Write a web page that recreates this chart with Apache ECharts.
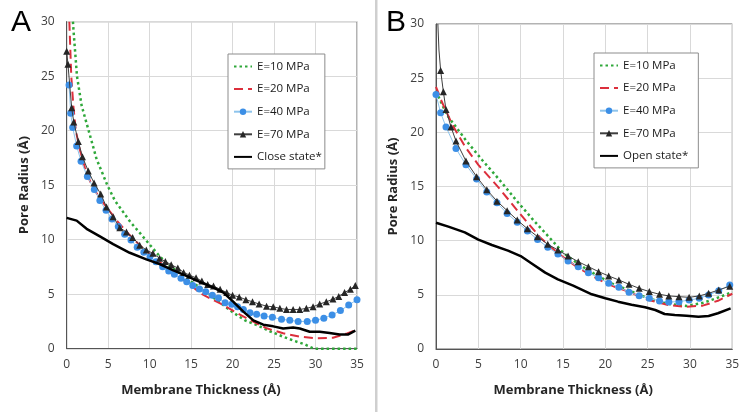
<!DOCTYPE html>
<html>
<head>
<meta charset="utf-8">
<script src="https://cdn.jsdelivr.net/npm/echarts@6/dist/echarts.min.js"></script>
<style>html,body{margin:0;padding:0;background:#fff}#c{width:750px;height:412px}</style>
</head>
<body>
<div id="c"></div>
<script>
// ---------- Panel A (Close state) ----------
const A_E10 = [[0.75,30],[0.84,29],[1.24,25],[1.8,22.3],[2.65,20],[3.6,17.4],[4.9,15],[5.8,13.6],[6.75,12.6],[7.7,11.6],[8.84,10.6],[10,9.55],[11.25,8.44],[12.4,7.6],[13.66,6.92],[15,6.15],[16.5,5.4],[18,4.5],[20.1,3.3],[21.5,2.6],[22.9,2.17],[24.5,1.6],[26.1,1.1],[27.5,0.7],[28.7,0.4],[29.8,0],[31,0],[33,0],[35,0]];
const A_E20 = [[0.32,30],[0.55,25],[0.8,22.3],[1.1,20],[1.6,18.2],[2.2,16.6],[3.0,15],[4.0,13.8],[5.0,12.8],[6.2,11.6],[7.5,10.5],[8.8,9.5],[10,8.7],[11.3,7.9],[12.6,7.15],[14,6.35],[15,5.8],[16.1,5.1],[17.3,4.6],[18.5,4.16],[20.1,3.46],[22.1,2.63],[24.1,1.87],[26.1,1.41],[28.1,1.1],[30.1,0.95],[32.1,1.0],[33.8,1.4],[34.8,1.7]];
const A_E40 = [[0.28,24.2],[0.48,21.6],[0.72,20.3],[1.2,18.6],[1.73,17.2],[2.49,15.8],[3.33,14.6],[4.0,13.6],[4.74,12.7],[5.46,11.9],[6.22,11.2],[6.99,10.5],[7.75,9.97],[8.5,9.3],[9.3,8.84],[10.04,8.44],[10.77,7.98],[11.57,7.52],[12.3,7.13],[12.98,6.82],[13.78,6.46],[14.47,6.15],[15.2,5.8],[16.0,5.48],[16.76,5.23],[17.56,4.9],[18.3,4.65],[19.1,4.22],[19.9,4.07],[20.6,3.85],[21.3,3.6],[22.1,3.3],[22.9,3.15],[23.8,3.0],[24.8,2.88],[25.9,2.7],[26.9,2.6],[27.9,2.5],[29.0,2.5],[30.0,2.6],[31.0,2.8],[32.0,3.1],[33.0,3.5],[34.0,4.0],[35.0,4.5]];
const A_E70 = [[0,27.3],[0.15,26.1],[0.6,22.1],[0.85,20.8],[1.4,19.0],[1.9,17.6],[2.6,16.3],[3.3,15.2],[4.1,14.2],[4.8,13.0],[5.6,12.1],[6.4,11.1],[7.2,10.7],[7.95,10.2],[8.8,9.5],[9.6,9.05],[10.4,8.75],[11.2,8.3],[11.9,8.0],[12.6,7.7],[13.4,7.4],[14.1,7.0],[14.8,6.75],[15.6,6.5],[16.3,6.2],[17.0,5.9],[17.7,5.75],[18.5,5.45],[19.3,5.15],[20.0,4.9],[20.8,4.75],[21.6,4.5],[22.4,4.3],[23.2,4.1],[24.1,3.9],[24.9,3.85],[25.7,3.7],[26.5,3.6],[27.3,3.6],[28.1,3.6],[28.9,3.7],[29.7,3.85],[30.5,4.1],[31.3,4.3],[32.1,4.55],[32.8,4.8],[33.5,5.15],[34.2,5.45],[34.8,5.8]];
const A_STATE = [[0,12.0],[1.2,11.75],[2.4,11.0],[4.0,10.3],[5.6,9.6],[7.6,8.8],[9.6,8.2],[11.2,7.77],[12.8,7.2],[14.5,6.65],[16.1,6.1],[17.7,5.6],[18.9,5.15],[20.1,4.3],[21.3,3.4],[22.5,2.6],[23.7,2.2],[24.9,2.05],[26.1,1.85],[27.3,1.95],[28.1,1.85],[29.3,1.55],[30.5,1.55],[31.7,1.45],[32.9,1.3],[33.9,1.3],[34.8,1.65]];

// ---------- Panel B (Open state) ----------
const B_E10 = [[0,23.8],[1.3,21.6],[3.5,19.3],[5.5,17.4],[7.4,15.7],[9.4,13.8],[11.5,11.9],[13.5,10.2],[15.0,8.9],[17.0,7.75],[19.0,6.8],[20.9,6.0],[22.7,5.45],[25.0,4.68],[27.6,4.15],[29.6,3.97],[31.6,4.27],[33.1,4.68],[35,5.25]];
const B_E20 = [[0,24.2],[0.7,22.8],[2,20.6],[3.5,18.6],[5,17.0],[7.4,14.9],[9.9,12.5],[12.3,10.3],[14.3,8.9],[16.6,7.6],[19,6.5],[20.9,5.8],[22.7,5.3],[25,4.55],[27.5,4.05],[29.5,3.9],[31.5,4.0],[33.3,4.45],[35,5.1]];
const B_E40 = [[0,23.5],[0.55,21.8],[1.18,20.5],[2.36,18.5],[3.54,17.0],[4.8,15.7],[6.0,14.5],[7.2,13.5],[8.4,12.5],[9.6,11.7],[10.8,10.9],[12.0,10.1],[13.2,9.4],[14.4,8.77],[15.6,8.12],[16.8,7.6],[18.0,7.05],[19.2,6.58],[20.4,6.06],[21.6,5.7],[22.8,5.23],[24.0,4.92],[25.2,4.68],[26.4,4.43],[27.5,4.34],[28.7,4.37],[29.9,4.52],[31.1,4.68],[32.2,4.98],[33.4,5.38],[34.7,5.9]];
const B_E70_TOP = [[0.22,30],[0.35,27.6]];
const B_E70 = [[0.55,25.7],[0.87,23.75],[1.18,22.1],[1.77,20.5],[2.36,19.2],[3.54,17.35],[4.8,15.9],[6.0,14.7],[7.2,13.65],[8.4,12.77],[9.6,11.9],[10.8,11.1],[12.0,10.37],[13.2,9.66],[14.4,9.14],[15.6,8.58],[16.8,8.06],[18.0,7.6],[19.2,7.14],[20.4,6.74],[21.6,6.37],[22.8,5.97],[24.0,5.6],[25.2,5.3],[26.4,5.05],[27.5,4.9],[28.7,4.83],[29.9,4.77],[31.1,4.9],[32.2,5.14],[33.4,5.45],[34.7,5.8]];
const B_STATE = [[0,11.66],[1.46,11.3],[3.4,10.77],[5.0,10.1],[6.6,9.6],[8.5,9.08],[10.0,8.58],[11.3,7.9],[12.9,7.05],[14.4,6.43],[16.2,5.85],[18.4,5.05],[20.0,4.68],[21.5,4.37],[23.1,4.09],[24.7,3.85],[25.9,3.6],[27.0,3.23],[28.2,3.14],[29.6,3.06],[31.0,2.98],[32.2,3.05],[33.3,3.3],[34.8,3.75]];

const X_TICKS = {min:0, max:35, interval:5};
const Y_TICKS = {min:0, max:30, interval:5};
const NAMES_A = ['E=10 MPa','E=20 MPa','E=40 MPa','E=70 MPa','Close state*'];
const NAMES_B = ['E=10 MPa','E=20 MPa','E=40 MPa','E=70 MPa','Open state*'];
const LINE_ONLY = ['E=10 MPa','E=20 MPa','Close state*','Open state*'];
const X_TITLE = 'Membrane Thickness (Å)';
const Y_TITLE = 'Pore Radius (Å)';

const FONT = '"Open Sans", "Noto Sans", sans-serif';
const C_GREEN = '#2fa83a', C_RED = '#dc2f3c', C_BLUE_LINE = '#8ec4ec', C_BLUE = '#3c8fe6', C_GREY = '#3f3f3f', C_TRI = '#262626';

function xAxisCfg(gi){
  return {gridIndex:gi, type:'value', min:X_TICKS.min, max:X_TICKS.max, interval:X_TICKS.interval,
    name:X_TITLE, nameLocation:'middle', nameGap:35,
    nameTextStyle:{fontFamily:FONT, fontWeight:'bold', fontSize:13, color:'#262626', padding:[0,22,0,0]},
    axisLine:{show:true, onZero:false, lineStyle:{color:'#555', width:1}},
    axisTick:{show:false},
    axisLabel:{fontFamily:FONT, fontSize:12, color:'#404040', margin:10},
    splitLine:{show:true, lineStyle:{color:'#d9d9d9', width:1}}};
}
function yAxisCfg(gi){
  return {gridIndex:gi, type:'value', min:Y_TICKS.min, max:Y_TICKS.max, interval:Y_TICKS.interval,
    name:Y_TITLE, nameLocation:'middle', nameGap:36, nameRotate:90,
    nameTextStyle:{fontFamily:FONT, fontWeight:'bold', fontSize:13, color:'#262626'},
    axisLine:{show:true, onZero:false, lineStyle:{color:'#555', width:1}},
    axisTick:{show:false},
    axisLabel:{fontFamily:FONT, fontSize:12, color:'#404040', margin:12},
    splitLine:{show:true, lineStyle:{color:'#d9d9d9', width:1}}};
}
function s10(gi, data){ return {name:'E=10 MPa', type:'line', xAxisIndex:gi, yAxisIndex:gi, data, symbol:'none', z:3,
  lineStyle:{color:C_GREEN, width:2.5, type:[2.5,3]}, itemStyle:{color:C_GREEN}}; }
function s20(gi, data){ return {name:'E=20 MPa', type:'line', xAxisIndex:gi, yAxisIndex:gi, data, symbol:'none', z:4,
  lineStyle:{color:C_RED, width:2, type:[9,5]}, itemStyle:{color:C_RED}}; }
function s40(gi, data){ return {name:'E=40 MPa', type:'line', xAxisIndex:gi, yAxisIndex:gi, data, symbol:'circle', symbolSize:7, z:5,
  lineStyle:{color:C_BLUE_LINE, width:1}, itemStyle:{color:C_BLUE}}; }
function s70(gi, data){ return {name:'E=70 MPa', type:'line', xAxisIndex:gi, yAxisIndex:gi, data, symbol:'triangle', symbolSize:7, z:6,
  lineStyle:{color:C_GREY, width:1}, itemStyle:{color:C_TRI}}; }
function sState(gi, name, data){ return {name, type:'line', xAxisIndex:gi, yAxisIndex:gi, data, symbol:'none', z:7,
  lineStyle:{color:'#000', width:2.5}, itemStyle:{color:'#000'}}; }

const bE70 = B_E70_TOP.map(p => ({value:p, symbol:'none'})).concat(B_E70);

function legendCfg(names, left, top, padRight){
  return {data:names.map(n => LINE_ONLY.includes(n) ? {name:n, itemStyle:{opacity:0}} : {name:n}),
    orient:'vertical', left, top, itemWidth:18, itemHeight:8, itemGap:8.6,
    padding:[5.5,padRight,5,5], borderColor:'#8c8c8c', borderWidth:1, backgroundColor:'#fff', borderRadius:0,
    selectedMode:false,
    textStyle:{fontFamily:FONT, fontSize:11.5, color:'#1a1a1a', lineHeight:14}};
}

const chart = echarts.init(document.getElementById('c'), null, {renderer:'canvas'});
chart.setOption({
  animation:false,
  backgroundColor:'#fff',
  grid:[
    {left:66.7, top:21.7, width:290.3, height:327, show:true, borderColor:'#666', borderWidth:1, backgroundColor:'transparent'},
    {left:436, top:24, width:296.3, height:325, show:true, borderColor:'#666', borderWidth:1, backgroundColor:'transparent'}
  ],
  xAxis:[xAxisCfg(0), xAxisCfg(1)],
  yAxis:[yAxisCfg(0), yAxisCfg(1)],
  legend:[legendCfg(NAMES_A, 228, 54, 3), legendCfg(NAMES_B, 594, 53, 10)],
  series:[
    s10(0, A_E10), s20(0, A_E20), s40(0, A_E40), s70(0, A_E70), sState(0, 'Close state*', A_STATE),
    s10(1, B_E10), s20(1, B_E20), s40(1, B_E40), s70(1, bE70), sState(1, 'Open state*', B_STATE)
  ],
  graphic:[
    {type:'rect', left:375, top:0, shape:{width:2.5, height:412}, style:{fill:'#cfcfcf'}, silent:true},
    {type:'text', left:11, top:8, style:{text:'A', font:'30px "Liberation Sans", Arial, sans-serif', fill:'#000'}},
    {type:'text', left:386, top:8, style:{text:'B', font:'30px "Liberation Sans", Arial, sans-serif', fill:'#000'}}
  ]
});
</script>
</body>
</html>
